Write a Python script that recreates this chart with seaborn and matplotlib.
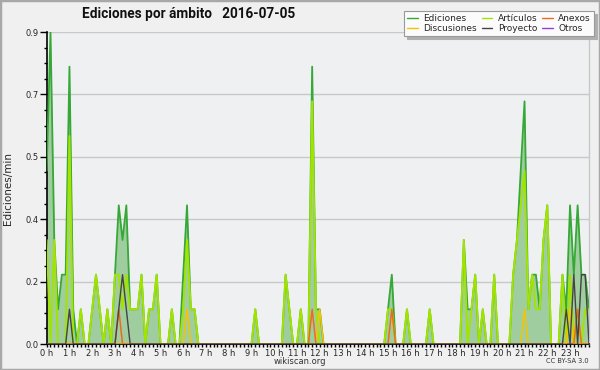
import numpy as np
import matplotlib
matplotlib.use("Agg")
import matplotlib.pyplot as plt
import seaborn as sns
from matplotlib.patches import Rectangle
from matplotlib.lines import Line2D
from matplotlib.ticker import FixedLocator, MultipleLocator, FormatStrFormatter

# ---- data: edits per minute in 10-minute bins, 0:00 .. 23:50 ----
title_text = "Ediciones por ámbito   2016-07-05"
hour_labels = [f"{h} h" for h in range(24)]
y_ticks = [0.0, 0.18, 0.36, 0.54, 0.72, 0.9]

ediciones = [
    0.5, 0.9, 0.3, 0.1, 0.2, 0.2, 0.8, 0.1, 0.0, 0.1, 0.0, 0.0,
    0.1, 0.2, 0.1, 0.0, 0.1, 0.0, 0.2, 0.4, 0.3, 0.4, 0.1, 0.1,
    0.1, 0.2, 0.0, 0.1, 0.1, 0.2, 0.0, 0.0, 0.0, 0.1, 0.0, 0.0,
    0.2, 0.4, 0.1, 0.1, 0.0, 0.0, 0.0, 0.0, 0.0, 0.0, 0.0, 0.0,
    0.0, 0.0, 0.0, 0.0, 0.0, 0.0, 0.0, 0.1, 0.0, 0.0, 0.0, 0.0,
    0.0, 0.0, 0.0, 0.2, 0.1, 0.0, 0.0, 0.1, 0.0, 0.0, 0.8, 0.1,
    0.1, 0.0, 0.0, 0.0, 0.0, 0.0, 0.0, 0.0, 0.0, 0.0, 0.0, 0.0,
    0.0, 0.0, 0.0, 0.0, 0.0, 0.0, 0.1, 0.2, 0.0, 0.0, 0.0, 0.1,
    0.0, 0.0, 0.0, 0.0, 0.0, 0.1, 0.0, 0.0, 0.0, 0.0, 0.0, 0.0,
    0.0, 0.0, 0.3, 0.1, 0.1, 0.2, 0.0, 0.1, 0.0, 0.0, 0.2, 0.0,
    0.0, 0.0, 0.0, 0.2, 0.3, 0.5, 0.7, 0.1, 0.2, 0.2, 0.1, 0.3,
    0.4, 0.0, 0.0, 0.0, 0.2, 0.1, 0.4, 0.2, 0.4, 0.2, 0.2, 0.1,
]
articulos = [
    0.3, 0.0, 0.3, 0.0, 0.0, 0.0, 0.6, 0.0, 0.0, 0.1, 0.0, 0.0,
    0.1, 0.2, 0.1, 0.0, 0.1, 0.0, 0.2, 0.2, 0.1, 0.2, 0.1, 0.1,
    0.1, 0.2, 0.0, 0.1, 0.1, 0.2, 0.0, 0.0, 0.0, 0.1, 0.0, 0.0,
    0.1, 0.3, 0.1, 0.1, 0.0, 0.0, 0.0, 0.0, 0.0, 0.0, 0.0, 0.0,
    0.0, 0.0, 0.0, 0.0, 0.0, 0.0, 0.0, 0.1, 0.0, 0.0, 0.0, 0.0,
    0.0, 0.0, 0.0, 0.2, 0.1, 0.0, 0.0, 0.1, 0.0, 0.0, 0.7, 0.1,
    0.0, 0.0, 0.0, 0.0, 0.0, 0.0, 0.0, 0.0, 0.0, 0.0, 0.0, 0.0,
    0.0, 0.0, 0.0, 0.0, 0.0, 0.0, 0.1, 0.1, 0.0, 0.0, 0.0, 0.1,
    0.0, 0.0, 0.0, 0.0, 0.0, 0.1, 0.0, 0.0, 0.0, 0.0, 0.0, 0.0,
    0.0, 0.0, 0.3, 0.0, 0.1, 0.2, 0.0, 0.1, 0.0, 0.0, 0.2, 0.0,
    0.0, 0.0, 0.0, 0.2, 0.3, 0.4, 0.5, 0.1, 0.2, 0.1, 0.1, 0.3,
    0.4, 0.0, 0.0, 0.0, 0.2, 0.0, 0.2, 0.0, 0.1, 0.0, 0.1, 0.1,
]
anexos = [0.0] * 144
discusiones = [0.0] * 144
proyecto = [0.0] * 144
otros = [0.0] * 144
# sparse series: (bin index, value)
anexos_pts = [(19, 0.1), (70, 0.1), (91, 0.1), (140, 0.1)]
discusiones_pts = [(37, 0.1), (72, 0.1), (126, 0.1), (138, 0.1)]
proyecto_pts = [(6, 0.1), (19, 0.1), (20, 0.2), (21, 0.1), (137, 0.1),
                (139, 0.2), (141, 0.2), (142, 0.2)]
for arr, pts in ((anexos, anexos_pts), (discusiones, discusiones_pts),
                 (proyecto, proyecto_pts)):
    for i, v in pts:
        arr[i] = v

n_bins = len(ediciones)
t = np.arange(n_bins) / 6.0  # hours

# ---- style ----
sns.set_theme(style="white")
plt.rcParams['font.family'] = ['DejaVu Sans']

BG = '#f0f0f0'
PLOT_BG = '#eef0f2'
C_ED = '#35a835'
C_FILL = '#a0cda0'
C_ART = '#a2e400'
C_ANX = '#f06a1e'
C_DISC = '#f4c400'
C_PROY = '#444444'
C_OTR = '#9040e0'

fig = plt.figure(figsize=(6, 3.7), dpi=100, facecolor=BG)
ax = fig.add_axes([46.7 / 600, 1 - 344 / 370, (589 - 46.7) / 600, 312 / 370])
ax.set_facecolor(PLOT_BG)

ax.fill_between(t, ediciones, 0, color=C_FILL, lw=0, zorder=1)
sns.lineplot(x=t, y=ediciones, ax=ax, color=C_ED, lw=1.3, zorder=3)
sns.lineplot(x=t, y=articulos, ax=ax, color=C_ART, lw=1.4, zorder=4)
sns.lineplot(x=t, y=discusiones, ax=ax, color=C_DISC, lw=1.1, zorder=5)
sns.lineplot(x=t, y=anexos, ax=ax, color=C_ANX, lw=1.1, zorder=5)
sns.lineplot(x=t, y=proyecto, ax=ax, color=C_PROY, lw=1.0, zorder=6)
sns.lineplot(x=t, y=otros, ax=ax, color=C_OTR, lw=0.6, zorder=2)

ax.set_xlim(0, t[-1])
ax.set_ylim(0, 0.9)
ax.xaxis.set_major_locator(FixedLocator(list(range(24))))
ax.set_xticklabels(hour_labels)
ax.xaxis.set_minor_locator(MultipleLocator(1 / 6))
ax.yaxis.set_major_locator(FixedLocator(y_ticks))
ax.yaxis.set_major_formatter(FormatStrFormatter('%.1f'))
ax.yaxis.set_minor_locator(MultipleLocator(0.045))

ax.grid(axis='y', which='major', color='#c8c8c8', lw=1, zorder=0)
ax.set_axisbelow(True)
ax.tick_params(axis='x', which='both', direction='out', length=2.5, width=1,
               color='black', labelsize=6, pad=1)
ax.tick_params(axis='y', which='major', direction='out', length=5, width=1,
               color='black', labelsize=6, pad=1)
ax.tick_params(axis='y', which='minor', direction='out', length=2.5, width=1,
               color='black')
ax.tick_params(which='both', left=True, bottom=True)

for s in ('left', 'bottom'):
    ax.spines[s].set_color('black')
    ax.spines[s].set_linewidth(1.2)
ax.spines['top'].set_visible(False)
ax.spines['right'].set_color('#c8c8c8')
ax.spines['right'].set_linewidth(1)

ax.set_xlabel('')
ax.set_ylabel('Ediciones/min', fontsize=7.5, labelpad=4)
ax.yaxis.set_label_coords(-0.062, 0.5)

fig.text(188.5 / 600, 1 - 14 / 370, title_text, ha='center', va='center',
         fontsize=9.8, fontweight='bold', color='#111111',
         family=['Roboto', 'DejaVu Sans'])
fig.text(300 / 600, 1 - 361 / 370, 'wikiscan.org', ha='center', va='center',
         fontsize=6, color='#333333')
fig.text(589 / 600, 1 - 361 / 370, 'CC BY-SA 3.0', ha='right', va='center',
         fontsize=4.8, color='#333333')

handles = [Line2D([], [], color=C_ED, lw=1), Line2D([], [], color=C_DISC, lw=1),
           Line2D([], [], color=C_ART, lw=1), Line2D([], [], color=C_PROY, lw=1),
           Line2D([], [], color=C_ANX, lw=1), Line2D([], [], color=C_OTR, lw=1)]
labels = ['Ediciones', 'Discusiones', 'Artículos', 'Proyecto', 'Anexos', 'Otros']
leg = fig.legend(handles, labels, ncol=3, loc='upper right',
                 bbox_to_anchor=(594 / 600, 1 - 11 / 370), fontsize=6.5,
                 frameon=True, fancybox=False, shadow={'color': '#b0b0b0', 'alpha': 1},
                 framealpha=1, facecolor='#fbfbfb', edgecolor='#999999',
                 handlelength=1.2, handletextpad=0.6, columnspacing=0.5,
                 labelspacing=0.1, borderpad=0.35, borderaxespad=0)
leg.get_frame().set_linewidth(0.8)

fig.add_artist(Rectangle((0, 0), 1, 1, transform=fig.transFigure, fill=False,
                         edgecolor='#a8a8a8', lw=2.5))

fig.savefig('out.png', dpi=100, facecolor=BG)
